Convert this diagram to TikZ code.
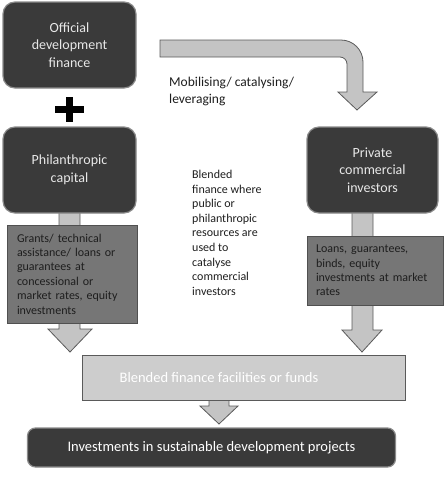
\documentclass[tikz,border=0pt]{standalone}
\usepackage{fontspec}
\setmainfont{Carlito}
\usetikzlibrary{calc}
\definecolor{darkbox}{HTML}{3A3A3A}
\definecolor{darkedge}{HTML}{8A8A8A}
\definecolor{boxtext}{HTML}{E8E8E8}
\definecolor{arrowfill}{HTML}{C4C4C4}
\definecolor{arrowedge}{HTML}{5A5A5A}
\definecolor{midfill}{HTML}{767676}
\definecolor{midedge}{HTML}{505050}
\definecolor{lightfill}{HTML}{CDCDCD}
\definecolor{inktext}{HTML}{1E1E1E}
\tikzset{
  darknode/.style={draw=darkedge, line width=1.2pt, fill=darkbox, rounded corners=12pt,
    text=boxtext, align=center, inner sep=2pt, font=\fontsize{14}{17.5}\selectfont},
  midnode/.style={draw=midedge, line width=0.8pt, fill=midfill, text=inktext,
    align=left, inner sep=0pt, font=\fontsize{12}{14.4}\selectfont},
  blockarrow/.style={draw=arrowedge, line width=0.8pt, fill=arrowfill, line join=miter},
  plaintext/.style={text=inktext, align=left, inner sep=0pt, anchor=north west}
}
\begin{document}
\begin{tikzpicture}[x=1pt,y=-1pt]
\useasboundingbox (0,0) rectangle (447,480);
% curved arrow
\draw[blockarrow] (160,40) [rounded corners=22pt]-- (363,40) [sharp corners]-- (363,92) -- (377,92) -- (357,110) -- (338,92) -- (347,92) [rounded corners=7pt]-- (347,57) [sharp corners]-- (160,57) -- cycle;
% left arrow
\draw[blockarrow] (59,212) -- (80,212) -- (80,329) -- (92,329) -- (70,352) -- (48,329) -- (59,329) -- cycle;
% right arrow
\draw[blockarrow] (352,212) -- (373,212) -- (373,330) -- (382,330) -- (362,352) -- (342,330) -- (352,330) -- cycle;
% bottom arrow
\draw[blockarrow] (209,399) -- (229,399) -- (229,406) -- (238,406) -- (219,424) -- (200,406) -- (209,406) -- cycle;

\node[darknode, minimum width=133pt, minimum height=86pt] (odf) at (69.5,45) {Official\\development\\finance};
\node[darknode, minimum width=133pt, minimum height=86pt] (phil) at (69.5,170) {Philanthropic\\capital};
\node[darknode, minimum width=131pt, minimum height=86pt] (pci) at (372.5,170) {Private\\commercial\\investors};

% plus sign
\fill[black] (66,97) rectangle (73,122);
\fill[black] (55,106) rectangle (84,113);

\node[midnode, minimum width=130pt, minimum height=98pt, text width=110pt] (grants) at (72,274)
  {Grants/ technical\\assistance/ loans or\\guarantees at\\concessional or\\market rates, equity\\investments};
\node[midnode, minimum width=136pt, minimum height=69pt, text width=118pt] (loans) at (375,270.5)
  {Loans, guarantees,\\binds, equity\\investments at market\\rates};

\node[draw=arrowedge, line width=0.8pt, fill=lightfill, minimum width=323pt, minimum height=45pt] (blended) at (243.5,377.5) {};
\node[text=white, font=\fontsize{14.5}{17}\selectfont, inner sep=0pt] (blendedtext) at (219,378) {Blended finance facilities or funds};
\node[draw=darkedge, line width=1.2pt, fill=darkbox, rounded corners=8pt, text=white, minimum width=368pt, minimum height=39pt,
  font=\fontsize{14.5}{17}\selectfont] (invest) at (211.5,447.5) {Investments in sustainable development projects};

\node[plaintext, font=\fontsize{13.5}{17}\selectfont] (mob) at (169,77) {Mobilising/ catalysing/\\leveraging};
\node[plaintext, font=\fontsize{12}{14.6}\selectfont] (mid) at (192,170)
  {Blended\\finance where\\public or\\philanthropic\\resources are\\used to\\catalyse\\commercial\\investors};
\end{tikzpicture}
\end{document}
